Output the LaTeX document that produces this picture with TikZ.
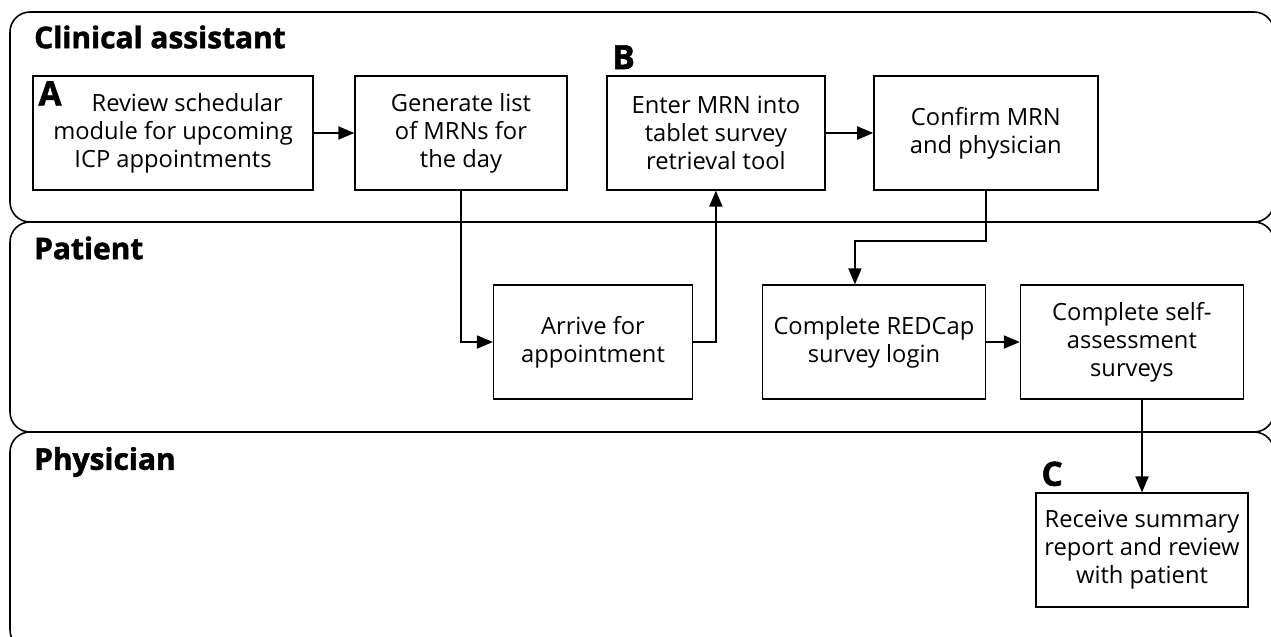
\documentclass[tikz,border=0pt]{standalone}
\usepackage{fontspec}
\setmainfont{Open Sans}[BoldFeatures={FakeBold=1.6}]
\usetikzlibrary{arrows,positioning}
\tikzset{
  block/.style = {draw, rectangle, line width=0.8pt, align=center, minimum height=2.28cm, inner sep=2pt, font=\fontsize{13.5}{16}\selectfont},
  lane/.style  = {draw, line width=0.9pt, rounded corners=0.4cm},
  title/.style = {anchor=west, font=\fontsize{17}{20}\selectfont\bfseries},
  tag/.style   = {font=\fontsize{19}{20}\selectfont\bfseries},
  flow/.style  = {line width=1.1pt}
}

\begin{document}
\begin{tikzpicture}[x=0.02cm, y=-0.02cm, >=triangle 45]
\useasboundingbox (0,0) rectangle (1271,636);
\clip (0,0) rectangle (1271,636);

% Swimlanes
\draw [lane] (10,12) rectangle (1274,222);
\draw [lane] (10,222) rectangle (1274,432);
\draw [lane] (10,432) rectangle (1274,650);
\node [title] (ca) at (28,37) {Clinical assistant};
\node [title] (pt) at (28,248) {Patient};
\node [title] (ph) at (28,462) {Physician};

% Clinical assistant lane
\node [block, minimum width=5.6cm] (review) at (173,133) {\hspace{1.2em}Review schedular\\module for upcoming\\ICP appointments};
\node [block, minimum width=4.24cm, right of=review, node distance=5.76cm] (mrnlist) {Generate list\\of MRNs for\\the day};
\node [block, minimum width=4.36cm, right of=mrnlist, node distance=5.1cm] (enter) {Enter MRN into\\tablet survey\\retrieval tool};
\node [block, minimum width=4.48cm, right of=enter, node distance=5.4cm] (confirm) {Confirm MRN\\and physician};

% Patient lane
\node [block, minimum width=3.98cm] (arrive) at (593,342) {Arrive for\\appointment};
\node [block, minimum width=4.46cm, right of=arrive, node distance=5.62cm] (redcap) {Complete REDCap\\survey login};
\node [block, minimum width=4.46cm, right of=redcap, node distance=5.16cm] (selfassess) {Complete self-\\assessment\\surveys};

% Physician lane
\node [block, minimum width=4.24cm] (receive) at (1142,550) {Receive summary\\report and review\\with patient};

% Step tags
\node [tag, anchor=north west] (taga) at (review.north west) {A};
\node [tag, anchor=south west] (tagb) at (enter.north west) {B};
\node [tag, anchor=south west] (tagc) at (receive.north west) {C};

% Connections
\draw [flow, ->] (review) -- (mrnlist);
\draw [flow, ->] (mrnlist.south) |- (arrive.west);
\draw [flow, ->] (arrive.east) -| (enter.south);
\draw [flow, ->] (enter) -- (confirm);
\draw [flow, ->] (confirm.south) -- ++(0,50) -| ([xshift=-0.38cm]redcap.north);
\draw [flow, ->] (redcap) -- (selfassess);
\draw [flow, ->] (selfassess.south -| receive.north) -- (receive.north);

\end{tikzpicture}
\end{document}
